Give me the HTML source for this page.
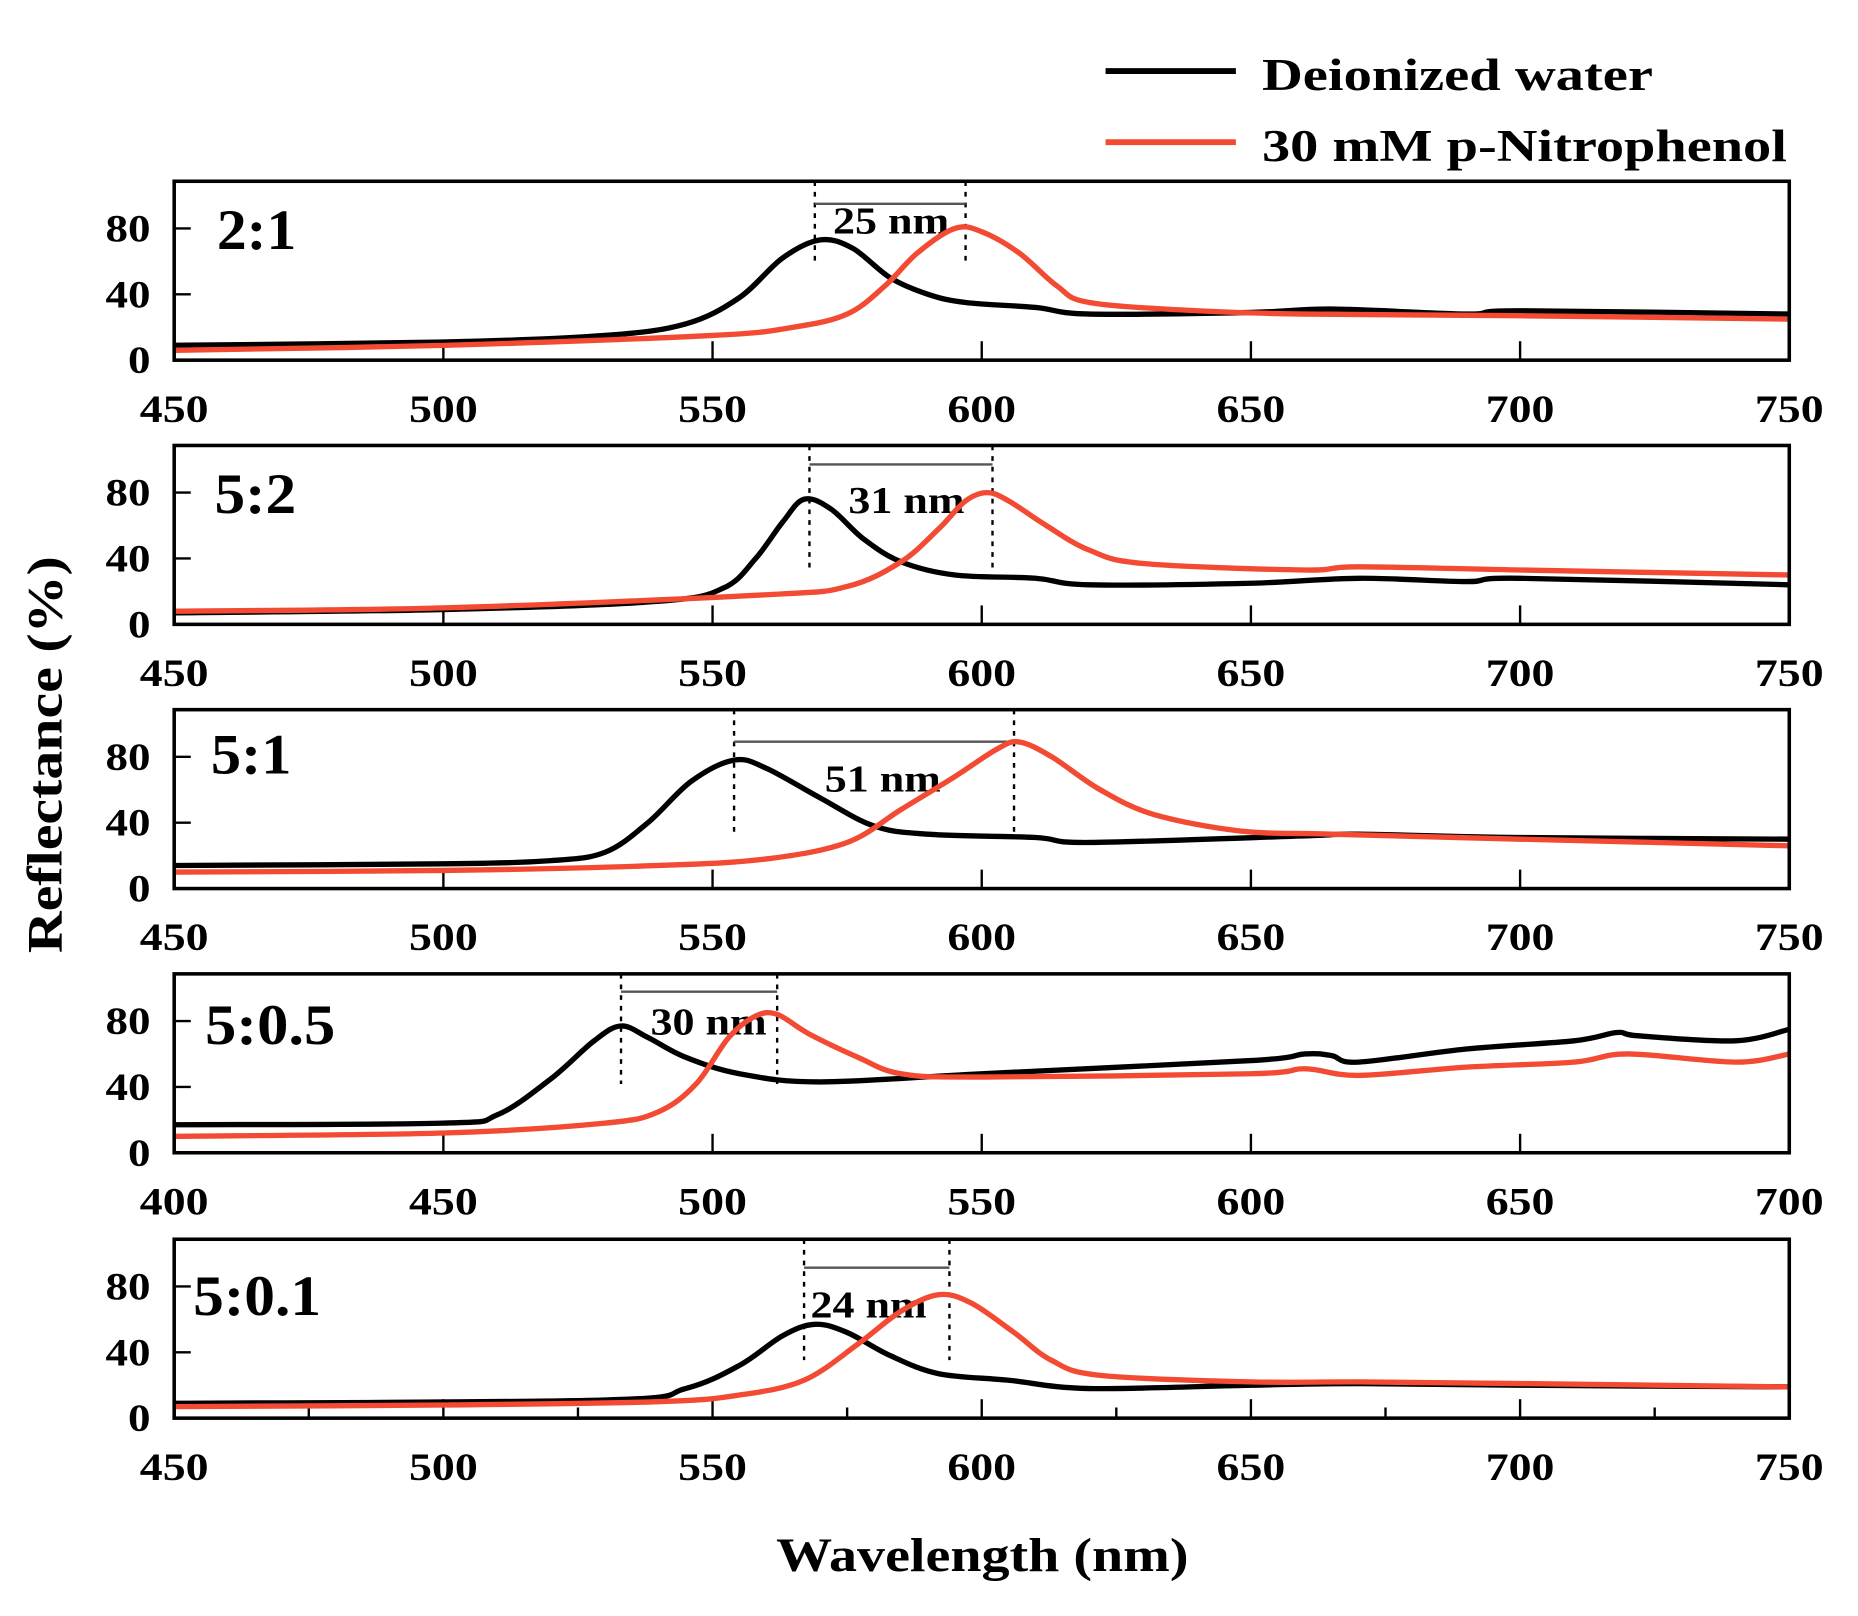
<!DOCTYPE html>
<html><head><meta charset="utf-8"><style>
html,body{margin:0;padding:0;background:#fff;}
svg{display:block;}
text{font-family:"Liberation Serif",serif;font-weight:bold;fill:#000;}
</style></head><body>
<svg id="s" width="1858" height="1616" viewBox="0 0 1568 1364" preserveAspectRatio="none" xmlns="http://www.w3.org/2000/svg">
<rect width="1568" height="1364" fill="#fff"/>
<line x1="933" y1="60" x2="1043" y2="60" stroke="#000" stroke-width="5"/>
<text x="1065" y="76" font-size="38" textLength="330" lengthAdjust="spacingAndGlyphs">Deionized water</text>
<line x1="933" y1="120" x2="1043" y2="120" stroke="#f24a33" stroke-width="5"/>
<text x="1065" y="136" font-size="38" textLength="443" lengthAdjust="spacingAndGlyphs">30 mM p-Nitrophenol</text>
<text x="0" y="0" font-size="42" text-anchor="middle" textLength="335" lengthAdjust="spacingAndGlyphs" transform="translate(52,637) rotate(-90)">Reflectance (%)</text>
<text x="829" y="1326" font-size="40" text-anchor="middle" textLength="348" lengthAdjust="spacingAndGlyphs">Wavelength (nm)</text>
<g id="g"></g>
</svg>
<script>
const NS="http://www.w3.org/2000/svg";
const g=document.getElementById('g');
function el(t,a,txt){const e=document.createElementNS(NS,t);for(const k in a)e.setAttribute(k,a[k]);if(txt)e.textContent=txt;g.appendChild(e);return e;}
const X0=147,X1=1510;
const panels=[
{top:153,x0:450,label:"2:1",lab:[183,210,67],
 k:[[450,9],[500,11],[530,15],[545,22],[555,38],[563,62],[570,73],[576,68],[583,50],[590,40],[597,35],[610,32],[620,28],[650,29],[665,31],[690,28],[700,30],[750,28]],
 r:[[450,6],[500,9],[550,15],[565,20],[575,28],[582,45],[588,65],[595,80],[600,78],[607,65],[614,45],[620,35],[640,30],[660,28],[700,27],[750,25]],
 a:[569,597,172,"25 nm",752,197,225]},
{top:376,x0:450,label:"5:2",lab:[181,433,69],
 k:[[450,7],[500,9],[540,14],[552,22],[558,40],[563,62],[567,76],[572,70],[578,52],[585,38],[595,30],[610,28],[620,24],[650,25],[670,28],[690,26],[700,28],[750,24]],
 r:[[450,8],[500,10],[560,18],[575,23],[585,38],[592,58],[597,75],[601,80],[605,75],[612,60],[620,45],[630,37],[660,33],[670,35],[700,33],[750,30]],
 a:[568,602,392,"31 nm",765,433,482]},
{top:599,x0:450,label:"5:1",lab:[178,653,68],
 k:[[450,14],[500,15],[520,17],[530,22],[538,40],[546,65],[554,78],[560,73],[570,55],[580,38],[590,33],[610,31],[620,28],[660,32],[670,33],[700,31],[750,30]],
 r:[[450,10],[500,11],[540,14],[560,18],[575,28],[585,48],[595,68],[603,85],[607,89],[613,80],[622,60],[632,45],[648,35],[665,33],[700,30],[750,26]],
 a:[554,606,626,"51 nm",745,668,705]},
{top:822,x0:400,label:"5:0.5",lab:[173,881,110],
 k:[[400,17],[450,18],[460,23],[470,45],[478,68],[483,77],[488,70],[495,58],[505,48],[520,43],[550,48],[600,56],[610,60],[615,59],[620,55],[640,63],[660,68],[668,73],[672,71],[690,68],[700,75]],
 r:[[400,10],[450,12],[480,18],[490,25],[497,42],[503,70],[508,83],[512,84],[518,72],[527,58],[535,48],[550,46],[600,48],[610,51],[620,47],[640,52],[660,55],[670,60],[690,55],[700,60]],
 a:[483,512,837,"30 nm",598,873,915]},
{top:1046,x0:450,label:"5:0.1",lab:[163,1110,108],minor:true,
 k:[[450,9],[530,11],[545,18],[555,32],[563,50],[569,57],[575,52],[583,38],[592,27],[605,23],[620,18],[650,20],[670,21],[700,20],[750,19]],
 r:[[450,7],[500,8],[540,10],[555,14],[567,23],[577,45],[585,65],[592,75],[598,70],[606,52],[613,35],[622,26],[650,22],[670,22],[700,21],[750,19]],
 a:[567,594,1070,"24 nm",733,1112,1148]}
];
function path(pts){let d="M"+pts[0][0]+","+pts[0][1];
 for(let i=0;i<pts.length-1;i++){const p0=pts[Math.max(0,i-1)],p1=pts[i],p2=pts[i+1],p3=pts[Math.min(pts.length-1,i+2)];
 d+=" C"+(p1[0]+(p2[0]-p0[0])/6).toFixed(1)+","+(p1[1]+(p2[1]-p0[1])/6).toFixed(1)+" "+(p2[0]-(p3[0]-p1[0])/6).toFixed(1)+","+(p2[1]-(p3[1]-p1[1])/6).toFixed(1)+" "+p2[0].toFixed(1)+","+p2[1].toFixed(1);}
 return d;}
for(const P of panels){
 const bot=P.top+151;
 const sx=v=>X0+(v-P.x0)*(X1-X0)/300, sy=v=>bot-v*1.39;
 for(let i=1;i<6;i++){const x=X0+i*(X1-X0)/6;el('line',{x1:x,y1:bot,x2:x,y2:bot-16,stroke:'#000','stroke-width':2});}
 if(P.minor)for(let i=0;i<6;i++){const x=X0+(i+0.5)*(X1-X0)/6;el('line',{x1:x,y1:bot,x2:x,y2:bot-9,stroke:'#000','stroke-width':2});}
 for(const v of [40,80])el('line',{x1:X0,y1:sy(v),x2:X0+14,y2:sy(v),stroke:'#000','stroke-width':2});
 for(let i=0;i<=6;i++)el('text',{x:X0+i*(X1-X0)/6,y:bot+52,'font-size':33,'text-anchor':'middle',textLength:58,lengthAdjust:'spacingAndGlyphs'},String(P.x0+50*i));
 for(const v of [0,40,80])el('text',{x:127,y:sy(v)+11,'font-size':33,'text-anchor':'end',textLength:v?38:19,lengthAdjust:'spacingAndGlyphs'},String(v));
 el('text',{x:P.lab[0],y:P.lab[1],'font-size':48,textLength:P.lab[2],lengthAdjust:'spacingAndGlyphs'},P.label);
 const a=P.a;
 for(const w of [a[0],a[1]])el('line',{x1:sx(w),y1:P.top,x2:sx(w),y2:a[6],stroke:'#000','stroke-width':2,'stroke-dasharray':'4,5'});
 el('line',{x1:sx(a[0]),y1:a[2],x2:sx(a[1]),y2:a[2],stroke:'#555','stroke-width':2});
 el('text',{x:a[4],y:a[5],'font-size':32,'text-anchor':'middle',textLength:98,lengthAdjust:'spacingAndGlyphs'},a[3]);
 el('path',{d:path(P.k.map(p=>[sx(p[0]),sy(p[1])])),fill:'none',stroke:'#000','stroke-width':4.5});
 el('path',{d:path(P.r.map(p=>[sx(p[0]),sy(p[1])])),fill:'none',stroke:'#f24a33','stroke-width':4.5});
 el('rect',{x:X0,y:P.top,width:X1-X0,height:151,fill:'none',stroke:'#000','stroke-width':3});
}
</script>
</body></html>
